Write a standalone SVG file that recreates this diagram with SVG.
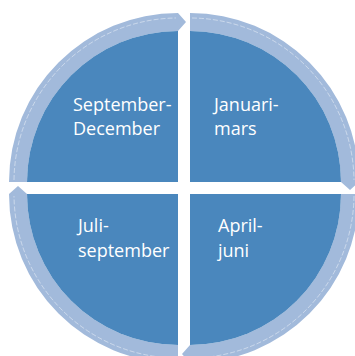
<svg xmlns="http://www.w3.org/2000/svg" width="355" height="356" viewBox="0 0 355 356">
<style>
.q{fill:#4a87bd}
.r{fill:#a2badb}
.h{fill:none;stroke:#ffffff;stroke-opacity:0.55;stroke-width:0.8;stroke-dasharray:5 2}
.t{font-family:"Open Sans","Noto Sans","Liberation Sans",sans-serif;font-size:18px;fill:#ffffff}
</style>
<rect width="355" height="356" fill="#ffffff"/>
<g id="connectors">
<path class="r" d="M 190,13 A 169 169 0 0 1 359,182 L 350,190 L 341,182 A 151 151 0 0 0 190,31 Z"/>
<path class="r" d="M 359,194 A 169 169 0 0 1 190,363 L 182,354 L 190,345 A 151 151 0 0 0 341,194 Z"/>
<path class="r" d="M 178,363 A 169 169 0 0 1 9,194 L 18,186 L 27,194 A 151 151 0 0 0 178,345 Z"/>
<path class="r" d="M 9,182 A 169 169 0 0 1 178,13 L 186,22 L 178,31 A 151 151 0 0 0 27,182 Z"/>
<path class="h" d="M 192,18 A 164 164 0 0 1 354,180"/>
<path class="h" d="M 354,196 A 164 164 0 0 1 192,358"/>
<path class="h" d="M 176,358 A 164 164 0 0 1 14,196"/>
<path class="h" d="M 14,180 A 164 164 0 0 1 176,18"/>
</g>
<g id="node-jan">
<path class="q" d="M 190,182 L 190,31 A 151 151 0 0 1 341,182 Z"/>
<text class="t" x="214" y="111">Januari-</text>
<text class="t" x="214" y="135">mars</text>
</g>
<g id="node-apr">
<path class="q" d="M 190,194 L 341,194 A 151 151 0 0 1 190,345 Z"/>
<text class="t" x="218" y="232">April-</text>
<text class="t" x="218" y="257">juni</text>
</g>
<g id="node-jul">
<path class="q" d="M 178,194 L 178,345 A 151 151 0 0 1 27,194 Z"/>
<text class="t" x="78" y="232">Juli-</text>
<text class="t" x="78" y="257">september</text>
</g>
<g id="node-sep">
<path class="q" d="M 178,182 L 27,182 A 151 151 0 0 1 178,31 Z"/>
<text class="t" x="73" y="111">September-</text>
<text class="t" x="73" y="135">December</text>
</g>
</svg>
